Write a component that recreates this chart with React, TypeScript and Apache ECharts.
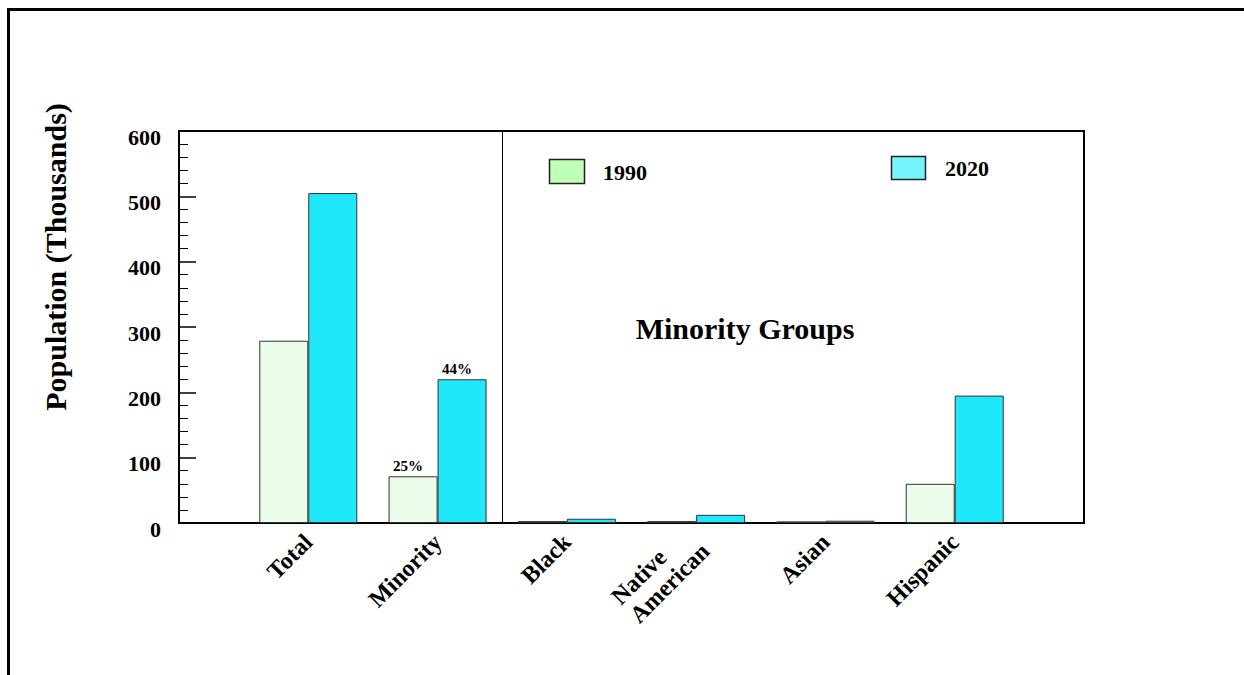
import React, { useEffect, useRef } from "react";
import * as echarts from "echarts";

const categories = ["", "Total", "Minority", "Black", "Native\nAmerican", "Asian", "Hispanic", ""];
const values1990 = [null, 279, 71.5, 3, 3, 2.5, 60, null];
const values2020 = [null, 505, 220, 6.5, 12.5, 3.5, 195, null];
const pct1990 = ["", "", "25%", "", "", "", "", ""];
const pct2020 = ["", "", "44%", "", "", "", "", ""];
const yTicks = [0, 100, 200, 300, 400, 500, 600];
const seriesNames = ["1990", "2020"];

const FONT = "'Liberation Serif', 'Times New Roman', serif";

export default function App() {
  const ref = useRef<HTMLDivElement>(null);
  useEffect(() => {
    document.body.style.margin = "0";
    const chart = echarts.init(ref.current!, null, { renderer: "svg" });
    const mk = (vals: (number | null)[], pct: string[]) =>
      vals.map((v, i) =>
        pct[i]
          ? {
              value: v,
              label: {
                show: true,
                position: "top",
                formatter: pct[i],
                offset: [-5, 0],
                distance: 3,
                fontSize: 15,
                fontWeight: "bold",
                fontFamily: FONT,
                color: "#000",
              },
            }
          : v
      );
    chart.setOption({
      animation: false,
      backgroundColor: "#fff",
      grid: {
        left: 179,
        top: 131,
        width: 905,
        height: 392,
        show: true,
        borderColor: "#000",
        borderWidth: 2,
        backgroundColor: "transparent",
      },
      xAxis: {
        type: "category",
        data: categories,
        boundaryGap: false,
        axisLine: { show: true, lineStyle: { color: "#000", width: 2 } },
        axisTick: { show: false },
        splitLine: { show: false },
        axisLabel: {
          rotate: 45,
          interval: 0,
          margin: 15,
          fontSize: 24,
          fontWeight: "bold",
          fontFamily: FONT,
          color: "#000",
          formatter: (v: string) =>
            v
              .split("\n")
              .map((s) => "{a|" + s + "}")
              .join("\n"),
          rich: {
            a: {
              align: "left",
              fontSize: 24,
              fontWeight: "bold",
              fontFamily: FONT,
              color: "#000",
              lineHeight: 26,
            },
          },
        },
      },
      yAxis: {
        type: "value",
        min: yTicks[0],
        max: yTicks[yTicks.length - 1],
        interval: 100,
        axisLine: { show: true, lineStyle: { color: "#000", width: 2 } },
        axisTick: { show: true, inside: true, length: 17, lineStyle: { color: "#000", width: 1.5 } },
        minorTick: { show: true, splitNumber: 5, length: 9, lineStyle: { color: "#000", width: 1 } },
        splitLine: { show: false },
        axisLabel: {
          margin: 18,
          fontSize: 22,
          fontWeight: "bold",
          fontFamily: FONT,
          color: "#000",
          verticalAlign: "top",
          lineHeight: 12,
        },
      },
      series: [
        {
          name: seriesNames[0],
          type: "bar",
          data: mk(values1990, pct1990),
          barWidth: 49,
          barGap: "0%",
          itemStyle: { color: "#EAFCEA", borderColor: "#333", borderWidth: 1 },
        },
        {
          name: seriesNames[1],
          type: "bar",
          data: mk(values2020, pct2020),
          barWidth: 49,
          barGap: "0%",
          itemStyle: { color: "#1EE8FA", borderColor: "#333", borderWidth: 1 },
        },
      ],
    });
    const xA = chart.convertToPixel({ xAxisIndex: 0 }, "Minority") as number;
    const xB = chart.convertToPixel({ xAxisIndex: 0 }, "Black") as number;
    const divX = Math.round((xA + xB) / 2) + 0.5;
    chart.setOption({
      graphic: [
        {
          type: "rect",
          shape: { x: 8.5, y: 9.5, width: 1400, height: 800 },
          style: { fill: "none", stroke: "#000", lineWidth: 3 },
          silent: true,
        },
        {
          type: "line",
          shape: { x1: divX, y1: 131, x2: divX, y2: 523 },
          style: { stroke: "#000", lineWidth: 1 },
        },
        {
          type: "text",
          x: 55,
          y: 257,
          rotation: Math.PI / 2,
          style: {
            text: "Population (Thousands)",
            fontSize: 30,
            fontWeight: "bold",
            fontFamily: FONT,
            fill: "#000",
            align: "center",
            verticalAlign: "middle",
          },
        },
        {
          type: "text",
          x: 745,
          y: 328,
          style: {
            text: "Minority Groups",
            fontSize: 30,
            fontWeight: "bold",
            fontFamily: FONT,
            fill: "#000",
            align: "center",
            verticalAlign: "middle",
          },
        },
        {
          type: "rect",
          shape: { x: 549.5, y: 159.5, width: 35, height: 24 },
          style: { fill: "#C0FFB8", stroke: "#222", lineWidth: 1.5 },
        },
        {
          type: "text",
          x: 603,
          y: 172,
          style: {
            text: seriesNames[0],
            fontSize: 22,
            fontWeight: "bold",
            fontFamily: FONT,
            fill: "#000",
            align: "left",
            verticalAlign: "middle",
          },
        },
        {
          type: "rect",
          shape: { x: 891.5, y: 156.5, width: 34, height: 23 },
          style: { fill: "#74F4FC", stroke: "#222", lineWidth: 1.5 },
        },
        {
          type: "text",
          x: 945,
          y: 168,
          style: {
            text: seriesNames[1],
            fontSize: 22,
            fontWeight: "bold",
            fontFamily: FONT,
            fill: "#000",
            align: "left",
            verticalAlign: "middle",
          },
        },
      ],
    });
    return () => chart.dispose();
  }, []);
  return <div ref={ref} style={{ width: 1244, height: 675 }} />;
}
